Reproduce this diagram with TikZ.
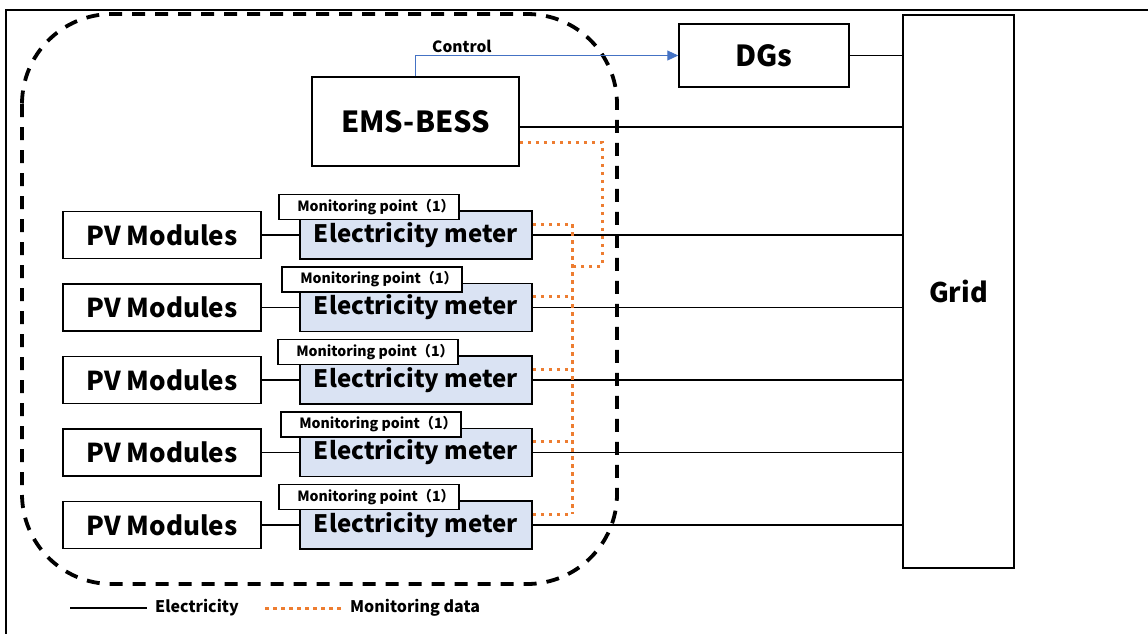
\documentclass[tikz,border=0pt]{standalone}
\usepackage{fontspec}
\setmainfont{Noto Sans CJK JP}
\usetikzlibrary{arrows.meta,calc}
\definecolor{meterfill}{HTML}{DAE3F3}
\definecolor{ctrlblue}{HTML}{4472C4}
\definecolor{dataorange}{HTML}{ED7D31}
\tikzset{
  box/.style={draw=black,line width=1.5pt,fill=white,inner sep=0pt,font=\bfseries\fontsize{24}{28}\selectfont},
  pvbox/.style={box,minimum width=198pt,minimum height=47pt,font=\bfseries\fontsize{26}{28}\selectfont},
  meterbox/.style={box,fill=meterfill,minimum width=232pt,minimum height=48pt},
  labelbox/.style={draw=black,line width=1.2pt,fill=white,inner sep=0pt,minimum width=180pt,minimum height=25pt,font=\bfseries\fontsize{14.1}{16}\selectfont},
  elec/.style={draw=black,line width=1.3pt},
  data/.style={draw=dataorange,line width=3pt,dash pattern=on 3.5pt off 4.5pt},
  ctrl/.style={draw=ctrlblue,line width=1pt,-{Triangle[length=11pt,width=10pt]}},
  region/.style={draw=black,line width=3.8pt,dash pattern=on 13pt off 10pt,rounded corners=90pt},
  smalltext/.style={inner sep=0pt,anchor=west,font=\bfseries\fontsize{16}{18}\selectfont}
}
\begin{document}
\begin{tikzpicture}[x=1pt,y=-1pt]
\useasboundingbox (0,0) rectangle (1148,633);
\clip (0,0) rectangle (1148,633);
% outer frame
\draw[line width=2pt] (6,700) -- (6,10) -- (1200,10);
% dashed region
\draw[region] (22,14) rectangle (617,584);
% main nodes
\node[box,minimum width=170pt,minimum height=63pt,font=\bfseries\fontsize{29}{30}\selectfont] (dg) at (764,55.5) {DGs};
\node[box,minimum width=111pt,minimum height=553pt,font=\bfseries\fontsize{27}{30}\selectfont] (grid) at (958.5,291.5) {Grid};
\node[box,minimum width=207pt,minimum height=89pt,font=\bfseries\fontsize{29}{30}\selectfont] (ems) at (415.5,121.5) {EMS-BESS};
% rows
\foreach \i/\y/\dx in {1/235/0,2/307.5/3,3/380/-1,4/452.5/2,5/525/0}{
  \node[pvbox] (pv\i) at (162,\y) {PV Modules};
  \node[meterbox] (m\i) at (416,\y) {Electricity meter};
  \node[labelbox] (lab\i) at (369+\dx,\y-28) {\hspace*{14pt}Monitoring point（1）};
  \draw[elec] (pv\i) -- (m\i);
  \draw[elec] (m\i) -- (m\i -| grid.west);
}
% DGs and EMS to grid
\draw[elec] (dg) -- (dg -| grid.west);
\draw[elec] ([yshift=-5.5pt]ems.east) -- ([yshift=-5.5pt]ems.east -| grid.west);
% control
\draw[ctrl] (ems.north) |- (dg.west);
\node[smalltext,font=\bfseries\fontsize{15.5}{17}\selectfont] (ctrllabel) at (432,46) {Control};
% monitoring data
\coordinate (j) at (572,0);
\coordinate (loopc) at (602,266);
\foreach \i in {1,...,5}{
  \draw[data] ([yshift=11pt]m\i.east) -- ([yshift=11pt]m\i.east -| j);
}
\draw[data] ([yshift=11pt]m1.east -| j) -- ([yshift=11pt]m5.east -| j);
\draw[data] ([yshift=-20.5pt]ems.east) -| (loopc) -- (loopc -| j);
% legend
\coordinate (la) at (70,608);
\coordinate (lb) at (147,608);
\coordinate (lc) at (265,608);
\coordinate (ld) at (343,608);
\draw[elec] (la) -- (lb);
\node[smalltext] (leg1) at (155,608) {Electricity};
\draw[data] (lc) -- (ld);
\node[smalltext] (leg2) at (350,608) {Monitoring data};
\end{tikzpicture}
\end{document}
